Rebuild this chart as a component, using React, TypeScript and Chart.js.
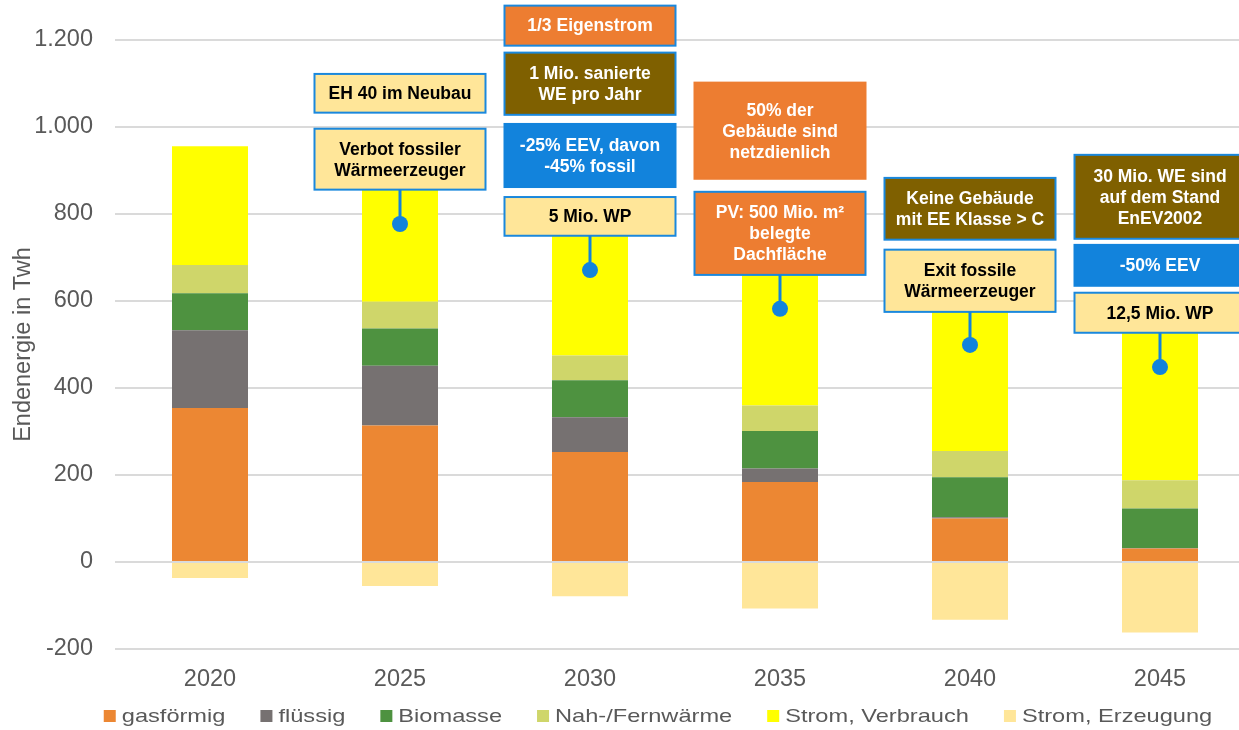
import React, { useEffect, useRef } from "react";
import { Chart, registerables } from "chart.js";

Chart.register(...registerables);

// ---------- data ----------
const years = ["2020", "2025", "2030", "2035", "2040", "2045"];
const gasfoermig = [354, 314, 253, 184, 100, 31];
const fluessig = [179, 137, 80, 31, 3, 1];
const biomasse = [85, 86, 85, 86, 92, 91];
const nahFernwaerme = [65, 61, 57, 59, 60, 65];
const stromVerbrauch = [273, 272, 295, 320, 335, 352];
const stromErzeugung = [-37, -55, -79, -107, -133, -162];

const seriesLabels = ["gasförmig", "flüssig", "Biomasse", "Nah-/Fernwärme", "Strom, Verbrauch", "Strom, Erzeugung"];
const seriesColors = ["#EC8733", "#767171", "#4E9240", "#CFD66A", "#FFFF00", "#FFE699"];
const seriesValues = [gasfoermig, fluessig, biomasse, nahFernwaerme, stromVerbrauch, stromErzeugung];

const yMin = -200;
const yMax = 1200;
const yStep = 200;
const yTitle = "Endenergie in Twh";

// annotation boxes (category index, top / bottom in TWh)
const noteCategory = [1, 1, 2, 2, 2, 2, 3, 3, 4, 4, 5, 5, 5];
const noteTop = [1122, 996, 1279, 1171, 1007, 839, 1102, 851, 883, 718, 936, 729, 619];
const noteBottom = [1033, 856, 1187, 1028, 862, 750, 881, 660, 741, 575, 743, 635, 527];
const noteText = [
  "EH 40 im Neubau",
  "Verbot fossiler\nWärmeerzeuger",
  "1/3 Eigenstrom",
  "1 Mio. sanierte\nWE pro Jahr",
  "-25% EEV, davon\n-45% fossil",
  "5 Mio. WP",
  "50% der\nGebäude sind\nnetzdienlich",
  "PV: 500 Mio. m²\nbelegte\nDachfläche",
  "Keine Gebäude\nmit EE Klasse > C",
  "Exit fossile\nWärmeerzeuger",
  "30 Mio. WE sind\nauf dem Stand\nEnEV2002",
  "-50% EEV",
  "12,5 Mio. WP",
];
const noteKind = ["light", "light", "orange", "brown", "blue", "light", "orangePlain", "orange", "brown", "light", "brown", "blue", "light"];

// pins (category index, start at box bottom, dot value)
const pinCategory = [1, 2, 3, 4, 5];
const pinFrom = [856, 750, 660, 575, 527];
const pinDot = [777, 671, 582, 499, 448];

const kindStyle: Record<string, { fill: string; border: string; text: string }> = {
  light: { fill: "#FFE699", border: "#1A88DD", text: "#000000" },
  orange: { fill: "#ED7D31", border: "#1A88DD", text: "#FFFFFF" },
  orangePlain: { fill: "#ED7D31", border: "#ED7D31", text: "#FFFFFF" },
  brown: { fill: "#7F6000", border: "#1A88DD", text: "#FFFFFF" },
  blue: { fill: "#1283DC", border: "#1283DC", text: "#FFFFFF" },
};

const FONT = "'Liberation Sans', Arial, sans-serif";
const GREY = "#595959";

function fmt(v: number): string {
  const s = String(Math.abs(v));
  const withDots = s.replace(/\B(?=(\d{3})+(?!\d))/g, ".");
  return (v < 0 ? "-" : "") + withDots;
}

const annotationPlugin = {
  id: "annotations",
  afterDatasetsDraw(chart: any) {
    const ctx = chart.ctx as CanvasRenderingContext2D;
    const x = chart.scales.x;
    const y = chart.scales.y;
    const step = x.getPixelForValue(1) - x.getPixelForValue(0);
    const half = step * 0.45;
    ctx.save();
    for (let i = 0; i < noteText.length; i++) {
      const cx = x.getPixelForValue(noteCategory[i]);
      const top = y.getPixelForValue(noteTop[i]);
      const bottom = y.getPixelForValue(noteBottom[i]);
      const st = kindStyle[noteKind[i]];
      ctx.fillStyle = st.fill;
      ctx.fillRect(cx - half, top, half * 2, bottom - top);
      ctx.strokeStyle = st.border;
      ctx.lineWidth = 2;
      ctx.strokeRect(cx - half, top, half * 2, bottom - top);
      const lines = noteText[i].split("\n");
      const lh = 21;
      ctx.fillStyle = st.text;
      ctx.font = `bold 17.5px ${FONT}`;
      ctx.textAlign = "center";
      ctx.textBaseline = "middle";
      const mid = (top + bottom) / 2;
      lines.forEach((ln, k) => {
        ctx.fillText(ln, cx, mid + (k - (lines.length - 1) / 2) * lh + 1);
      });
    }
    for (let i = 0; i < pinCategory.length; i++) {
      const cx = x.getPixelForValue(pinCategory[i]);
      const y0 = y.getPixelForValue(pinFrom[i]);
      const y1 = y.getPixelForValue(pinDot[i]);
      ctx.strokeStyle = "#1283DC";
      ctx.lineWidth = 3;
      ctx.beginPath();
      ctx.moveTo(cx, y0);
      ctx.lineTo(cx, y1);
      ctx.stroke();
      ctx.fillStyle = "#1283DC";
      ctx.beginPath();
      ctx.arc(cx, y1, 8, 0, Math.PI * 2);
      ctx.fill();
    }
    ctx.restore();
  },
  afterDraw(chart: any) {
    const ctx = chart.ctx as CanvasRenderingContext2D;
    const ds = chart.data.datasets;
    const sx = 1.27;
    ctx.save();
    ctx.font = `18.6px ${FONT}`;
    const widths = ds.map((d: any) => ctx.measureText(d.label).width * sx);
    const box = 12, gapText = 6, gapItem = 35;
    let total = 0;
    widths.forEach((w: number, i: number) => {
      total += box + gapText + w + (i < widths.length - 1 ? gapItem : 0);
    });
    let cur = chart.width / 2 - total / 2;
    const cy = chart.height - 14;
    ds.forEach((d: any, i: number) => {
      ctx.fillStyle = d.backgroundColor;
      ctx.fillRect(cur, cy - 6, box, box);
      cur += box + gapText;
      ctx.save();
      ctx.translate(cur, cy);
      ctx.scale(sx, 1);
      ctx.fillStyle = GREY;
      ctx.textAlign = "left";
      ctx.textBaseline = "middle";
      ctx.fillText(d.label, 0, 1);
      ctx.restore();
      cur += widths[i] + gapItem;
    });
    ctx.restore();
  },
};

export default function App() {
  const ref = useRef<HTMLCanvasElement | null>(null);
  useEffect(() => {
    if (!ref.current) return;
    const chart = new Chart(ref.current, {
      type: "bar",
      data: {
        labels: years,
        datasets: seriesLabels.map((label, i) => ({
          label,
          data: seriesValues[i],
          backgroundColor: seriesColors[i],
          borderWidth: 0,
          barPercentage: 0.4,
          categoryPercentage: 1,
          stack: "s",
        })),
      },
      options: {
        animation: false,
        responsive: false,
        devicePixelRatio: 1,
        layout: { padding: { top: 40, right: 61, left: 0, bottom: 0 } },
        plugins: {
          legend: { display: false },
          tooltip: { enabled: false },
        },
        scales: {
          x: {
            stacked: true,
            grid: { display: false },
            border: { display: false },
            ticks: { color: GREY, font: { family: FONT, size: 23.5 }, padding: 8 },
            afterFit: (s: any) => { s.height = 81; },
          },
          y: {
            stacked: true,
            min: yMin,
            max: yMax,
            ticks: {
              stepSize: yStep,
              color: GREY,
              font: { family: FONT, size: 23.5 },
              padding: 22,
              callback: (v: any) => fmt(Number(v)),
            },
            grid: { color: "#DADADA", lineWidth: 2, drawTicks: false },
            border: { display: false },
            title: {
              display: true,
              text: yTitle,
              color: GREY,
              font: { family: FONT, size: 23.5 },
              padding: { top: 9, bottom: 0 },
            },
            afterFit: (s: any) => { s.width = 115; },
          },
        },
      },
      plugins: [annotationPlugin],
    });
    return () => chart.destroy();
  }, []);
  return (
    <div style={{ position: "absolute", left: 0, top: 0, width: 1239, height: 730, overflow: "hidden", background: "#fff" }}>
      <canvas ref={ref} width={1316} height={730} style={{ width: 1316, height: 730, display: "block" }} />
    </div>
  );
}
